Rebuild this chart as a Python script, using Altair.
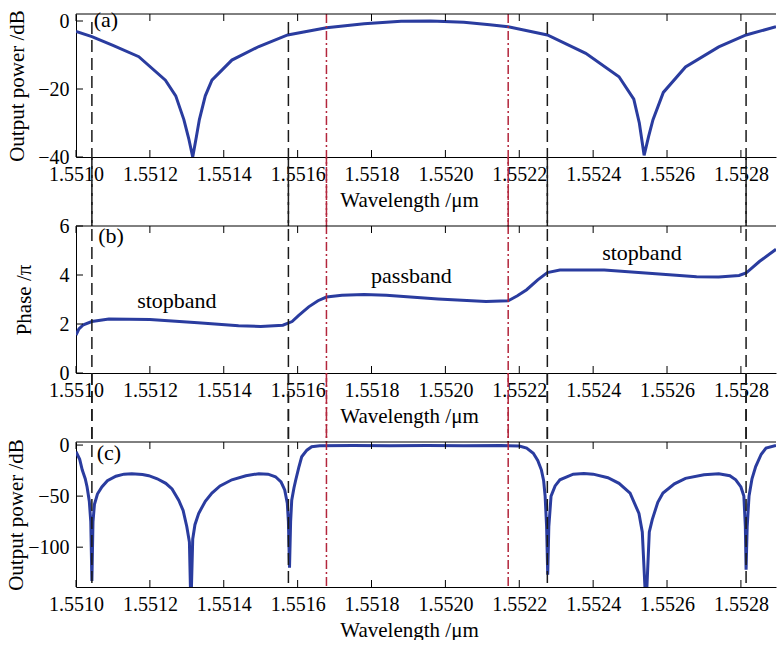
import altair as alt
import pandas as pd

FONT = "Liberation Serif"
BLUE = "#2a3c9f"
RED = "#b3263c"

X_MIN, X_MAX = 1.5510, 1.552895
x_ticks = [1.5510, 1.5512, 1.5514, 1.5516, 1.5518, 1.5520, 1.5522, 1.5524, 1.5526, 1.5528]

# panel (a)
wl_a = [1.55100, 1.551043, 1.55110, 1.55117, 1.551242, 1.55127, 1.551292, 1.551305, 1.551316,
        1.551326, 1.551334, 1.55135, 1.551368, 1.551422, 1.551495, 1.551573, 1.551678, 1.55178,
        1.55188, 1.55196, 1.55205, 1.55212, 1.55217, 1.552276, 1.55238, 1.55247, 1.55251,
        1.552525, 1.552538, 1.55255, 1.552562, 1.55259, 1.55265, 1.55274, 1.552814, 1.552895]
pw_a = [-3.1, -4.6, -7.2, -10.5, -17.4, -22.0, -29.0, -34.5, -40.0,
        -34.0, -29.0, -22.0, -17.4, -11.5, -7.5, -4.1, -2.0, -0.8,
        -0.1, 0.0, -0.4, -1.1, -1.7, -4.1, -9.5, -16.4, -23.0,
        -30.0, -39.5, -34.0, -29.0, -21.0, -13.5, -7.6, -4.1, -1.7]

# panel (b)
wl_b = [1.55100, 1.551008, 1.55102, 1.551043, 1.551089, 1.55120, 1.55133, 1.55144, 1.55150,
        1.55156, 1.551585, 1.551603, 1.55163, 1.551655, 1.551678, 1.55172, 1.55178, 1.55184,
        1.55198, 1.55211, 1.55217, 1.552195, 1.55222, 1.55225, 1.552276, 1.55231, 1.55243,
        1.55256, 1.55268, 1.55274, 1.552795, 1.552814, 1.55285, 1.552895]
ph_b = [1.55, 1.8, 1.97, 2.1, 2.2, 2.18, 2.05, 1.93, 1.9,
        1.95, 2.1, 2.35, 2.7, 2.95, 3.1, 3.17, 3.2, 3.17,
        3.02, 2.92, 2.95, 3.15, 3.4, 3.8, 4.1, 4.2, 4.2,
        4.06, 3.93, 3.92, 3.98, 4.08, 4.55, 5.05]

# panel (c)
wl_c = [1.55100, 1.551010, 1.551017, 1.551025, 1.55103, 1.551036, 1.55104, 1.551043, 1.551046,
        1.55105, 1.551058, 1.55107, 1.551085, 1.551108, 1.55113, 1.551151, 1.55118, 1.551197,
        1.55122, 1.551243, 1.55126, 1.551278, 1.55129, 1.5513, 1.551307, 1.551311, 1.551316,
        1.551322, 1.551332, 1.55135, 1.551368, 1.55139, 1.551422, 1.55146, 1.551495, 1.55152,
        1.55154, 1.551555, 1.551565, 1.551572, 1.551575, 1.551578, 1.551581, 1.551584, 1.55159,
        1.551595, 1.551603, 1.551611, 1.551625, 1.551638, 1.55166, 1.55175, 1.55185, 1.55195,
        1.55205, 1.55215, 1.5522, 1.55222, 1.552238, 1.55225, 1.55226, 1.552266, 1.55227,
        1.552274, 1.552277, 1.55228, 1.552286, 1.552297, 1.55231, 1.552346, 1.552375, 1.5524,
        1.55244, 1.55247, 1.5525, 1.552524, 1.552533, 1.552543, 1.552552, 1.55256, 1.552575,
        1.552589, 1.55262, 1.55265, 1.5527, 1.55274, 1.55277, 1.552786, 1.5528, 1.552808,
        1.552812, 1.552814, 1.552817, 1.552822, 1.55283, 1.55284, 1.552855, 1.552868, 1.552895]
pw_c = [-6.5, -14, -24.5, -33, -41, -55, -75, -133, -75,
        -58, -48, -41, -35, -30.5, -28.5, -28, -28.8, -30,
        -33, -37.5, -43, -54, -64, -80, -95, -160, -92,
        -78, -67, -55, -47, -40, -34, -30, -28, -28.5,
        -31, -36, -44, -57, -75, -120, -75, -54, -42,
        -34, -22, -11.5, -5, -1.7, -0.6, -0.5, -0.7, -0.5,
        -0.7, -0.5, -1.0, -3, -8, -15, -24.5, -35, -50,
        -80, -127, -80, -50, -40, -34, -28.5, -27.8, -28.5,
        -32, -37.5, -47, -67, -85, -160, -85, -73, -56,
        -47, -38, -32.6, -29, -28, -30, -34, -41, -50,
        -80, -122, -80, -50, -33, -21, -9, -3, -0.5]

black_lines = [1.551043, 1.551575, 1.552276, 1.552814]
red_lines = [1.551678, 1.552170]

ticks_a = [0, -20, -40]
ticks_b = [0, 2, 4, 6]
ticks_c = [0, -50, -100]

ann_b_x = [1.551273, 1.551908, 1.552532]
ann_b_y = [2.94, 3.96, 4.9]
ann_b_t = ["stopband", "passband", "stopband"]

W = 700
H_A, H_B, H_C = 143, 147, 145
GAP = 69

xs = alt.Scale(domain=[X_MIN, X_MAX], nice=False, zero=False)


def panel(wl, vals, ydom, yticks, ytitle, h, title_x, tag, tag_x, tag_y,
          ext_top_black, ext_top_red, ext_bottom, extra=None):
    ys = alt.Scale(domain=ydom, nice=False, zero=False)
    xaxis = alt.Axis(values=x_ticks, format=".4f", title="Wavelength /μm",
                     titleX=333, titleY=43, titleAlign="center",
                     titleBaseline="middle", ticks=False, grid=False,
                     domainColor="black", labelPadding=7, labelFlush=False,
                     labelFont=FONT, labelFontSize=20, titleFont=FONT, titleFontSize=21)
    yaxis = alt.Axis(values=yticks, title=ytitle, titleX=title_x,
                     titleY=h / 2, titleAngle=270, titleAlign="center",
                     titleBaseline="middle", ticks=False, grid=False,
                     domainColor="black", labelPadding=7, labelFlush=False,
                     labelFont=FONT, labelFontSize=20, titleFont=FONT, titleFontSize=21)
    X = lambda f: alt.X(f, scale=xs, axis=xaxis, title="Wavelength /μm")
    Y = lambda f: alt.Y(f, scale=ys, axis=yaxis, title=ytitle)

    df = pd.DataFrame({"wl": wl, "v": vals})
    line = alt.Chart(df).mark_line(color=BLUE, strokeWidth=3, clip=True).encode(
        x=X("wl:Q"), y=Y("v:Q"),
    )
    border = alt.Chart(pd.DataFrame({"k": [0]})).mark_rule(color="black").encode(
        x=alt.value(0), x2=alt.value(W), y=alt.value(0),
    )
    xt = pd.DataFrame({"wl": x_ticks})
    top_ticks = alt.Chart(xt).mark_rule(color="black").encode(
        x=X("wl:Q"), y=alt.value(0), y2=alt.value(7),
    )
    bottom_ticks = alt.Chart(xt).mark_rule(color="black").encode(
        x=X("wl:Q"), y=alt.value(h - 7), y2=alt.value(h),
    )
    yt = pd.DataFrame({"v": yticks})
    left_ticks = alt.Chart(yt).mark_rule(color="black").encode(
        y=Y("v:Q"), x=alt.value(0), x2=alt.value(7),
    )
    blk = alt.Chart(pd.DataFrame({"wl": black_lines})).mark_rule(
        color="#1a1a1a", strokeWidth=1.5, strokeDash=[12, 6]).encode(
        x=X("wl:Q"), y=alt.value(ext_top_black), y2=alt.value(h + ext_bottom),
    )
    red = alt.Chart(pd.DataFrame({"wl": red_lines})).mark_rule(
        color=RED, strokeWidth=1.5, strokeDash=[9, 3, 2, 3]).encode(
        x=X("wl:Q"), y=alt.value(ext_top_red), y2=alt.value(h + ext_bottom),
    )
    tagc = alt.Chart(pd.DataFrame({"wl": [tag_x], "v": [tag_y], "t": [tag]})).mark_text(
        font=FONT, fontSize=22, align="center", baseline="middle", color="black").encode(
        x=X("wl:Q"), y=Y("v:Q"), text="t:N",
    )
    layers = [line, blk, red, border, top_ticks, bottom_ticks, left_ticks, tagc]
    if extra is not None:
        ann = alt.Chart(pd.DataFrame(extra)).mark_text(
            font=FONT, fontSize=22, align="center", baseline="middle", color="black").encode(
            x=X("wl:Q"), y=Y("v:Q"), text="t:N",
        )
        layers.append(ann)
    return alt.layer(*layers).properties(width=W, height=h)


pa = panel(wl_a, pw_a, [-40, 2.06], ticks_a, "Output power /dB", H_A, -59,
           "(a)", 1.551081, 0.3, 8, 0, GAP)
pb = panel(wl_b, ph_b, [0, 6], ticks_b, "Phase /π", H_B, -52,
           "(b)", 1.551095, 5.6, -GAP, -GAP, GAP,
           extra={"wl": ann_b_x, "v": ann_b_y, "t": ann_b_t})
pc = panel(wl_c, pw_c, [-139, 3], ticks_c, "Output power /dB", H_C, -60,
           "(c)", 1.551089, -7.8, -GAP, -GAP, 0)

chart = alt.vconcat(pa, pb, pc, spacing=GAP, bounds="flush").properties(
    padding={"left": 5, "top": 8, "right": 0, "bottom": 0}
).configure_view(stroke=None).configure_axis(
    labelFont=FONT, labelFontSize=20, labelColor="black",
    titleFont=FONT, titleFontSize=21, titleFontWeight="normal", titleColor="black",
)

chart.save("out.html", embed_options={"renderer": "svg", "actions": False})
